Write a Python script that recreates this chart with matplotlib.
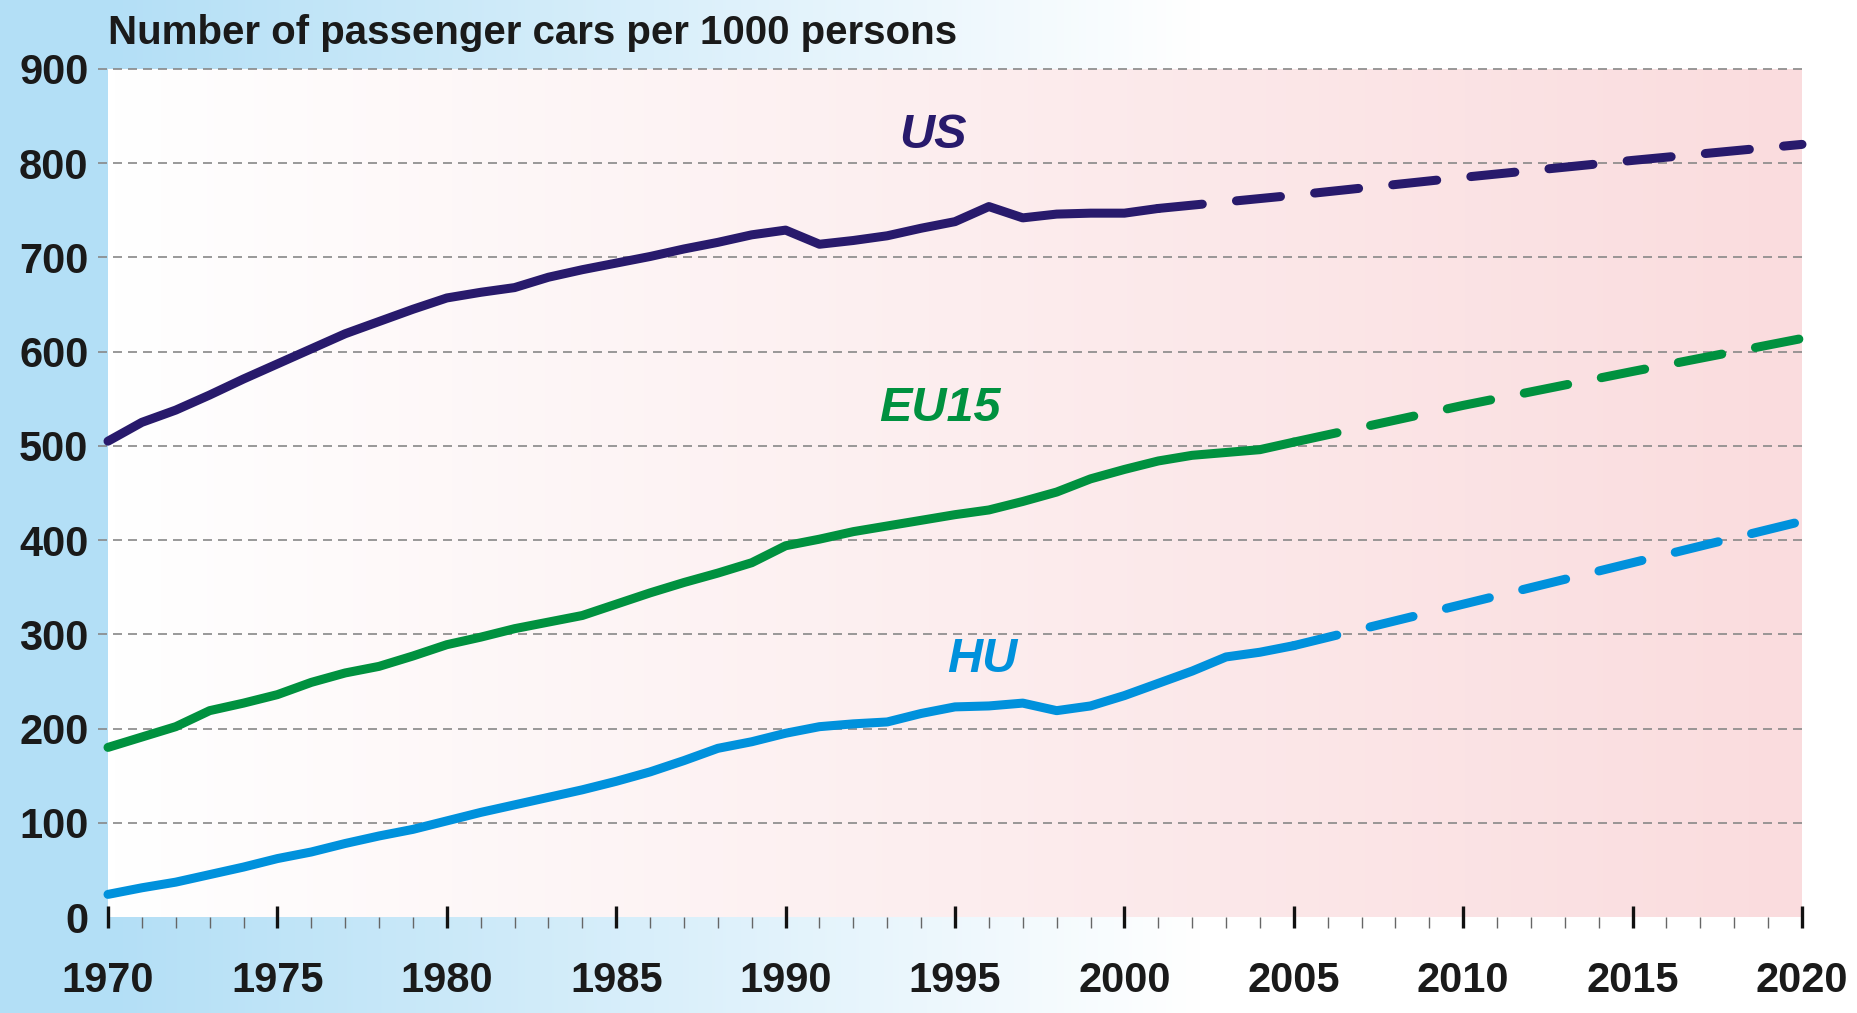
import matplotlib.pyplot as plt
import numpy as np
from matplotlib.colors import LinearSegmentedColormap, to_rgb

plt.rcParams['font.family'] = ['Liberation Sans', 'DejaVu Sans']

# ------------------------------------------------------------ #
#                 data
# ------------------------------------------------------------ #
us_years = list(range(1970, 2002))
us_values = [505, 525, 538, 554, 571, 587, 603, 619, 632, 645,
             657, 663, 668, 679, 687, 694, 701, 709, 716, 724,
             729, 714, 718, 723, 731, 738, 754, 742, 746, 747,
             747, 752]
us_proj_years = [2001, 2005, 2010, 2015, 2020]
us_proj_values = [752, 766, 785, 803, 820]

eu_years = list(range(1970, 2006))
eu_values = [180, 191, 202, 219, 227, 236, 249, 259, 266, 277,
             289, 297, 306, 313, 320, 332, 344, 355, 365, 376,
             394, 401, 409, 415, 421, 427, 432, 441, 451, 465,
             475, 484, 490, 493, 496, 504]
eu_proj_years = [2005, 2010, 2015, 2020]
eu_proj_values = [504, 543, 579, 614]

hu_years = list(range(1970, 2006))
hu_values = [24, 31, 37, 45, 53, 62, 69, 78, 86, 93,
             102, 111, 119, 127, 135, 144, 154, 166, 179, 186,
             195, 202, 205, 207, 216, 223, 224, 227, 219, 224,
             235, 248, 261, 276, 281, 288]
hu_proj_years = [2005, 2010, 2015, 2020]
hu_proj_values = [288, 332, 376, 420]

y_ticks = list(range(0, 901, 100))
x_major = list(range(1970, 2021, 5))
x_minor = list(range(1970, 2021))

TITLE = "Number of passenger cars per 1000 persons"

# colours
US_C = '#281a6c'
EU_C = '#00913f'
HU_C = '#0091dc'
BLUE_BG = '#b3dff6'
PINK = '#fadcde'
GRID_C = '#888888'
TEXT_C = '#1a1a1a'


def draw_background(fig, w, h):
    # figure: flat blue strip on the left, then fading to white
    x = np.arange(w)
    frac = np.clip((x - 108) / (1200 - 108), 0, 1)
    blue = np.array(to_rgb(BLUE_BG))
    row = blue[None, :] * (1 - frac[:, None]) + frac[:, None]
    img = np.repeat(row[None, :, :], 2, axis=0)
    bg = fig.add_axes([0, 0, 1, 1], zorder=-10)
    bg.imshow(img, aspect='auto', extent=[0, 1, 0, 1])
    bg.axis('off')


def main():
    W, H = 1858, 1013
    fig = plt.figure(figsize=(W / 100, H / 100), dpi=100)
    draw_background(fig, W, H)

    ax = fig.add_axes([108 / W, 1 - 917 / H, (1802 - 108) / W, (917 - 69) / H])
    ax.set_xlim(1970, 2020)
    ax.set_ylim(0, 900)
    ax.patch.set_alpha(0)
    for s in ax.spines.values():
        s.set_visible(False)

    # plot area: white -> pink
    cmap = LinearSegmentedColormap.from_list('wp', ['white', PINK])
    ax.imshow(np.linspace(0, 1, 256)[None, :], cmap=cmap, aspect='auto',
              extent=[1970, 2020, 0, 900], zorder=0)

    # dashed grid, sticking out a little to the left
    for v in y_ticks[1:]:
        ax.plot([1969.7, 2020], [v, v], color=GRID_C, lw=1.2,
                ls=(0, (5.4, 3.6)), clip_on=False, zorder=1)

    # series
    series = [
        (us_years, us_values, us_proj_years, us_proj_values, US_C),
        (eu_years, eu_values, eu_proj_years, eu_proj_values, EU_C),
        (hu_years, hu_values, hu_proj_years, hu_proj_values, HU_C),
    ]
    for yrs, vals, pyrs, pvals, c in series:
        ax.plot(yrs, vals, color=c, lw=6.5, solid_capstyle='round',
                solid_joinstyle='round', clip_on=False, zorder=3)
        ax.plot(pyrs, pvals, color=c, lw=6.5, ls=(0, (4.9, 3.8)),
                dash_capstyle='round', clip_on=False, zorder=3)

    # series names
    lab = dict(fontsize=35, fontweight='bold', fontstyle='italic',
               ha='center', va='center', zorder=4)
    ax.text(1994.35, 829, 'US', color=US_C, **lab)
    ax.text(1994.55, 540, 'EU15', color=EU_C, **lab)
    ax.text(1995.8, 273, 'HU', color=HU_C, **lab)

    # ticks
    ax.set_xticks(x_major)
    ax.set_xticks(x_minor, minor=True)
    ax.set_yticks(y_ticks)
    ax.tick_params(axis='x', which='major', direction='inout', length=16,
                   width=2.4, color='#111111', pad=24, labelsize=30,
                   labelcolor=TEXT_C)
    ax.tick_params(axis='x', which='minor', direction='out', length=8,
                   width=1.0, color='#666666')
    ax.tick_params(axis='y', length=0, pad=14, labelsize=30,
                   labelcolor=TEXT_C)
    for t in ax.get_xticklabels() + ax.get_yticklabels():
        t.set_fontweight('bold')

    fig.text(108 / W, 1 - 33 / H, TITLE, fontsize=29, fontweight='bold',
             color=TEXT_C, ha='left', va='center')

    fig.savefig('out.png', dpi=100)


if __name__ == "__main__":
    main()
